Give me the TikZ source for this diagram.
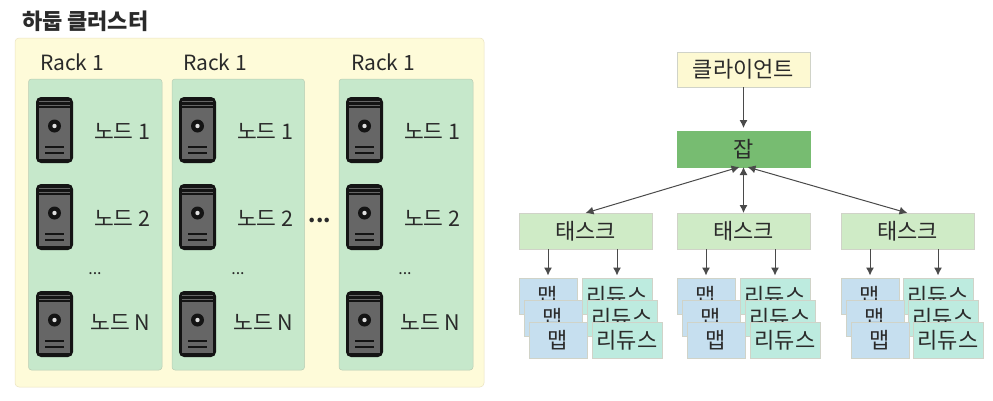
\documentclass[tikz,border=0pt]{standalone}
\usepackage{fontspec}
\setmainfont{Noto Sans CJK KR}
\usetikzlibrary{arrows.meta}
\definecolor{outerfill}{HTML}{FEFBD9}
\definecolor{outerline}{HTML}{EBE3C0}
\definecolor{rackfill}{HTML}{C6E8CB}
\definecolor{rackline}{HTML}{B9CDB4}
\definecolor{clientfill}{HTML}{FDF9D2}
\definecolor{jobfill}{HTML}{77BC71}
\definecolor{taskfill}{HTML}{CFEBC6}
\definecolor{mapfill}{HTML}{C6DFEF}
\definecolor{redfill}{HTML}{BDEBDF}
\definecolor{boxline}{HTML}{D0D3C8}
\definecolor{txt}{HTML}{2A2A2A}
\definecolor{arrowc}{HTML}{4A4A4A}
\tikzset{
  x=1pt,y=-1pt,
  every node/.style={text=txt,inner sep=0pt,outer sep=0pt},
  flow/.style={draw=boxline,line width=.5pt,minimum height=36pt,font=\fontsize{22}{22}\selectfont},
  taskbox/.style={flow,fill=taskfill,minimum width=133pt},
  mapbox/.style={flow,fill=mapfill,minimum width=58pt},
  redbox/.style={flow,fill=redfill,minimum width=70pt},
  arr/.style={draw=arrowc,line width=1pt,-{Latex[length=8pt,width=8pt]},shorten >=3pt},
  biarr/.style={draw=arrowc,line width=1pt,{Latex[length=8pt,width=8pt]}-{Latex[length=8pt,width=8pt]}},
  racklabel/.style={anchor=west,font=\fontsize{21}{21}\selectfont},
  nodelabel/.style={anchor=east,font=\fontsize{21.5}{21.5}\selectfont},
  server/.pic={
    \fill[black!92,rounded corners=5pt] (0,0) rectangle (37,66);
    \fill[black!60] (3,11) rectangle (34,62);
    \draw[black!60,line width=1pt] (3,4) -- (34,4);
    \draw[black!60,line width=1pt] (3,8) -- (34,8);
    \fill[black!92] (18.5,29) circle (6.5pt);
    \fill[white!88!black] (18.5,29) circle (2.2pt);
    \draw[black!92,line width=2pt] (9,50) -- (28,50);
    \draw[black!92,line width=2pt] (9,55.5) -- (28,55.5);
  }
}
\newcommand{\rackcol}[4]{% rack left, rack width, label x, server x
  \node[draw=rackline,fill=rackfill,rounded corners=3pt,line width=.5pt,minimum width=#2pt,minimum height=291pt,anchor=north west] at (#1,79) {};
  \node[racklabel] at (#3,62) {Rack 1};
  \pic at (#4,97) {server};
  \pic at (#4,184) {server};
  \pic at (#4,291) {server};
  \node[nodelabel] at (#4+114.5,131) {노드 1};
  \node[nodelabel] at (#4+114.5,218) {노드 2};
  \node[nodelabel] at (#4+114.5,322) {노드 N};
  \node[font=\fontsize{16}{16}\selectfont] at (#4+59,274) {...};
}
\newcommand{\stack}[4]{% name, map x, reduce x, task name
  \node[mapbox] (#1a) at (#2,296.5) {맵};
  \node[redbox] (#1x) at (#3,296.5) {리듀스};
  \node[mapbox] (#1b) at (#2+5,318.5) {맵};
  \node[redbox] (#1y) at (#3+5,318.5) {리듀스};
  \node[mapbox] (#1c) at (#2+10,340.5) {맵};
  \node[redbox] (#1z) at (#3+10,340.5) {리듀스};
  \draw[arr] (#1a.north |- #4.south) -- (#1a.north);
  \draw[arr] (#1x.north |- #4.south) -- (#1x.north);
}
\begin{document}
\begin{tikzpicture}
\useasboundingbox (0,0) rectangle (993,400);
\fill[white] (0,0) rectangle (993,400);
\node[anchor=west,font=\bfseries\fontsize{22}{22}\selectfont] (title) at (22,21) {하둡 클러스터};
\node[draw=outerline,fill=outerfill,rounded corners=4pt,line width=.5pt,minimum width=469pt,minimum height=349pt,anchor=north west] (cluster) at (15,38) {};
\rackcol{28.5}{133.5}{40}{36}
\rackcol{172}{132.5}{183}{179}
\rackcol{339}{134}{351}{346}
\node[font=\bfseries\fontsize{21}{21}\selectfont] (dots) at (320,220) {...};

\node[flow,fill=clientfill,minimum width=133pt,minimum height=35pt] (client) at (743.5,69.5) {클라이언트};
\node[flow,fill=jobfill,draw=jobfill,minimum width=133pt] (job) at (743.5,149) {잡};
\node[taskbox] (t1) at (585.5,231) {태스크};
\node[taskbox] (t2) at (743.5,231) {태스크};
\node[taskbox] (t3) at (907.5,231) {태스크};
\draw[arr] (client) -- (job);
\draw[biarr] (job.south) -- (t2.north);
\draw[biarr] ([xshift=-4pt]job.south) -- (t1.north);
\draw[biarr] ([xshift=4pt]job.south) -- (t3.north);
\stack{p}{548}{617}{t1}
\stack{q}{706}{775}{t2}
\stack{r}{870}{938}{t3}
\end{tikzpicture}
\end{document}
